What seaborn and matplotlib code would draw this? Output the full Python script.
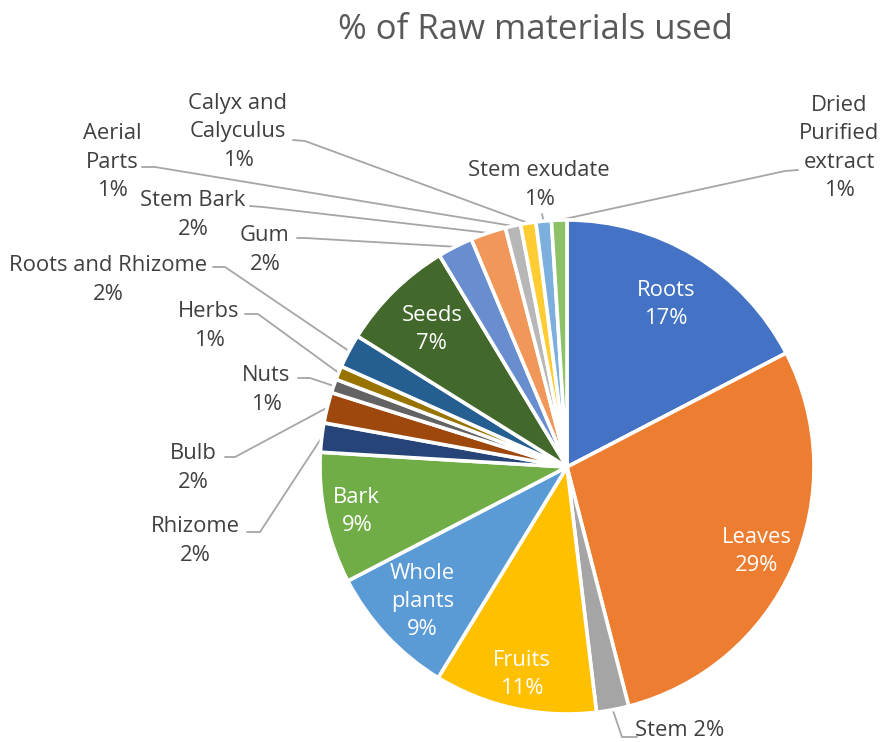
import numpy as np
import matplotlib
matplotlib.use("Agg")
import matplotlib.pyplot as plt
import seaborn as sns

# ---------------- data ----------------
categories = ["Roots", "Leaves", "Stem", "Fruits", "Whole plants", "Bark",
              "Rhizome", "Bulb", "Nuts", "Herbs", "Roots and Rhizome", "Seeds",
              "Gum", "Stem Bark", "Aerial Parts", "Calyx and Calyculus",
              "Stem exudate", "Dried Purified extract"]
values = [17.3, 28.5, 2.1, 10.6, 8.6, 8.55,
          1.9, 2.0, 0.9, 0.9, 2.2, 7.45,
          2.3, 2.3, 1.0, 1.0, 1.0, 1.0]
colors = ["#4472C4", "#ED7D31", "#A5A5A5", "#FFC000", "#5B9BD5", "#70AD47",
          "#264478", "#9E480E", "#636363", "#997300", "#255E91", "#43682B",
          "#698ED0", "#F1975A", "#B7B7B7", "#FFCD33", "#7CAFDD", "#8CC168"]
title = "% of Raw materials used"

# ---------------- layout ----------------
W, H = 881, 742
CX, CY, R = 567, 467, 247          # pie centre / radius in pixels

def px(x, y):
    return ((x - CX) / R, (CY - y) / R)

wrap = {"Whole plants": "Whole\nplants", "Aerial Parts": "Aerial\nParts",
        "Calyx and Calyculus": "Calyx and\nCalyculus",
        "Dried Purified extract": "Dried\nPurified\nextract"}
inside = {"Roots": 0.77, "Leaves": 0.84, "Fruits": 0.86, "Whole plants": 0.80,
          "Bark": 0.87, "Seeds": 0.78}
# text centre, leader start, leader elbow (pixels)
outside = {
    "Stem": ((680, 731), (637, 737), (622, 737)),
    "Rhizome": ((195, 541), (247, 532), (260, 532)),
    "Bulb": ((193, 468), (225, 457), (235, 457)),
    "Nuts": ((266, 390), (298, 378), (310, 378)),
    "Herbs": ((209, 326), (245, 314), (258, 314)),
    "Roots and Rhizome": ((108, 280), (213, 267), (225, 267)),
    "Gum": ((265, 250), (297, 238), (305, 238)),
    "Stem Bark": ((193, 215), (250, 206), (263, 207)),
    "Aerial Parts": ((112, 162), (142, 167), (155, 167)),
    "Calyx and Calyculus": ((238, 132), (293, 140), (305, 141)),
    "Stem exudate": ((539, 185), (542, 214), (542, 214)),
    "Dried Purified extract": ((839, 148), (798, 170), (785, 171)),
}

sns.set_theme(style="white")
plt.rcParams["font.family"] = ["Open Sans", "DejaVu Sans"]

fig = plt.figure(figsize=(W / 100, H / 100), dpi=100)
ax = fig.add_axes([0, 0, 1, 1])
wedges, _ = ax.pie(values, colors=colors, startangle=90, counterclock=False,
                   radius=1, wedgeprops=dict(edgecolor="white", linewidth=2.6))
ax.set_xlim(-CX / R, (W - CX) / R)
ax.set_ylim(-(H - CY) / R, CY / R)
ax.set_aspect("equal")
ax.axis("off")

total = sum(values)
FS = 15.8
LS = 1.45
for w, cat, v in zip(wedges, categories, values):
    pct = f"{round(v / total * 100):.0f}%"
    name = wrap.get(cat, cat)
    mid = np.deg2rad((w.theta1 + w.theta2) / 2)
    if cat in inside:
        r = inside[cat]
        ax.text(r * np.cos(mid), r * np.sin(mid), f"{name}\n{pct}",
                ha="center", va="center", color="white", fontsize=FS,
                linespacing=LS)
    else:
        (tx, ty), s, e = outside[cat]
        sep = " " if cat == "Stem" else "\n"
        ax.text(*px(tx, ty), f"{name}{sep}{pct}", ha="center", va="center",
                color="#404040", fontsize=FS, linespacing=LS)
        ex, ey = 1.0 * np.cos(mid), 1.0 * np.sin(mid)
        xs = [px(*s)[0], px(*e)[0], ex]
        ys = [px(*s)[1], px(*e)[1], ey]
        ax.plot(xs, ys, color="#A6A6A6", lw=1.3, zorder=0.5,
                solid_joinstyle="miter")

ax.text(*px(535, 30), title, ha="center", va="center", color="#595959",
        fontsize=25)

fig.savefig("out.png", dpi=100)
